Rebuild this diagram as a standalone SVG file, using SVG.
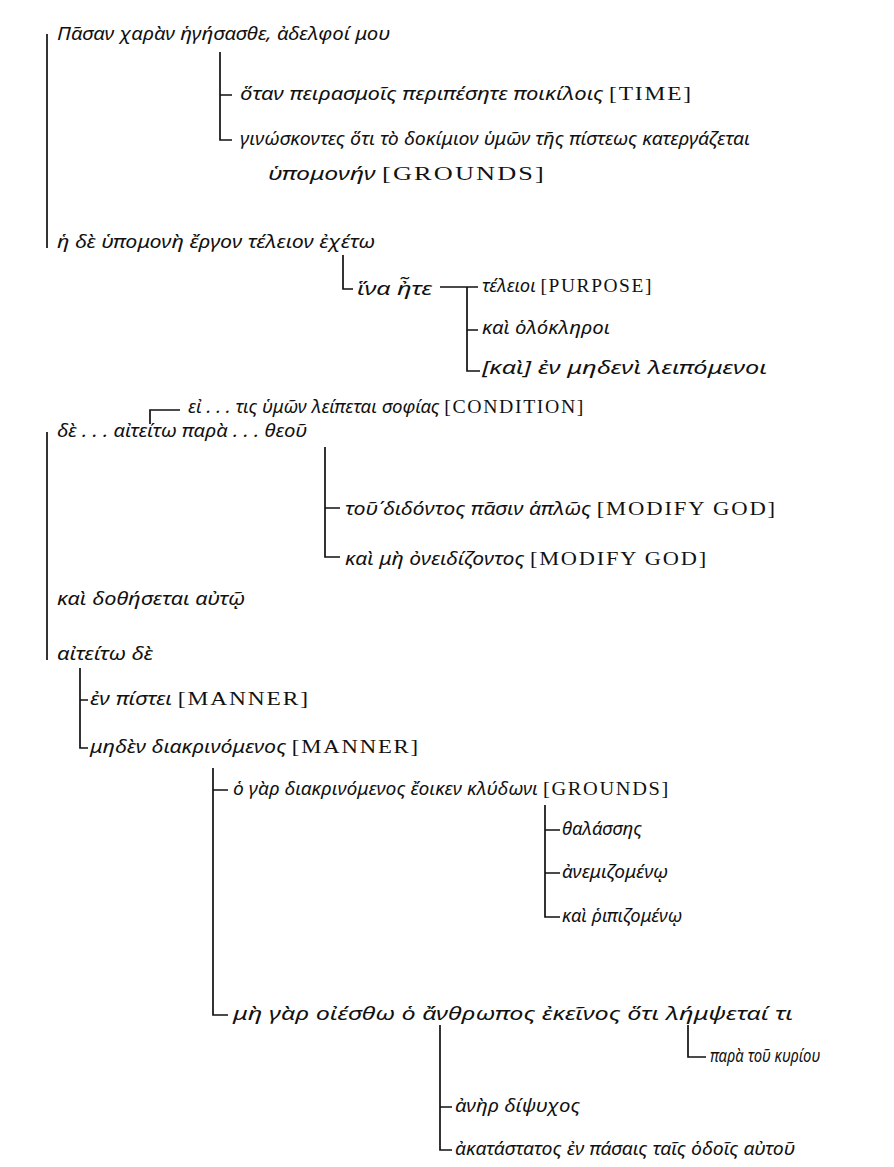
<svg xmlns="http://www.w3.org/2000/svg" width="894" height="1167" viewBox="0 0 894 1167">
<style>
text{font-family:"Noto Sans","DejaVu Sans",sans-serif;font-style:italic;font-size:17.5px;fill:#111}
.lb{font-family:"Liberation Serif",serif;font-style:normal;font-size:18.5px;letter-spacing:1.5px}
.c line,.c path{stroke:#111;stroke-width:1.7;fill:none}
</style>
<rect width="894" height="1167" fill="#fff"/>
<g class="c" id="connectors">
<line x1="47" y1="34" x2="47" y2="248"/>
<path d="M220 52 V140 H232 M220 95 H232"/>
<path d="M343 255 V289 H353"/>
<path d="M440 287 H478 M467 287 V371 H480 M467 330 H478"/>
<path d="M150 424 V410 H180"/>
<line x1="47" y1="432" x2="47" y2="660"/>
<path d="M325 447 V557 H340 M325 508 H340"/>
<path d="M80 668 V748 H88 M80 700 H88"/>
<path d="M213 768 V1015 H228 M213 790 H228"/>
<path d="M545 805 V917 H560 M545 830 H560 M545 873 H560"/>
<path d="M688 1025 V1057 H706"/>
<path d="M440 1025 V1150 H452 M440 1107 H452"/>
</g>
<g id="n1"><text x="57" y="40" textLength="333" lengthAdjust="spacingAndGlyphs">Πᾶσαν χαρὰν ἡγήσασθε, ἀδελφοί μου</text></g>
<g id="n2"><text x="240" y="100" textLength="453" lengthAdjust="spacingAndGlyphs">ὅταν πειρασμοῖς περιπέσητε ποικίλοις <tspan class="lb">[TIME]</tspan></text></g>
<g id="n3"><text x="240" y="145" textLength="510" lengthAdjust="spacingAndGlyphs">γινώσκοντες ὅτι τὸ δοκίμιον ὑμῶν τῆς πίστεως κατεργάζεται</text>
<text x="268" y="180" textLength="278" lengthAdjust="spacingAndGlyphs">ὑπομονήν <tspan class="lb">[GROUNDS]</tspan></text></g>
<g id="n4"><text x="57" y="248" textLength="318" lengthAdjust="spacingAndGlyphs">ἡ δὲ ὑπομονὴ ἔργον τέλειον ἐχέτω</text></g>
<g id="n5"><text x="357" y="295" textLength="75" lengthAdjust="spacingAndGlyphs">ἵνα ἦτε</text></g>
<g id="n6"><text x="482" y="292" textLength="171" lengthAdjust="spacingAndGlyphs">τέλειοι <tspan class="lb">[PURPOSE]</tspan></text></g>
<g id="n7"><text x="482" y="334" textLength="128" lengthAdjust="spacingAndGlyphs">καὶ ὁλόκληροι</text></g>
<g id="n8"><text x="482" y="374" textLength="285" lengthAdjust="spacingAndGlyphs">[καὶ] ἐν μηδενὶ λειπόμενοι</text></g>
<g id="n9"><text x="188" y="413" textLength="397" lengthAdjust="spacingAndGlyphs">εἰ . . . τις ὑμῶν λείπεται σοφίας <tspan class="lb">[CONDITION]</tspan></text></g>
<g id="n10"><text x="57" y="437" textLength="250" lengthAdjust="spacingAndGlyphs">δὲ . . . αἰτείτω παρὰ . . . θεοῦ</text></g>
<g id="n11"><text x="345" y="515" textLength="432" lengthAdjust="spacingAndGlyphs">τοῦ΄διδόντος πᾶσιν ἁπλῶς <tspan class="lb">[MODIFY GOD]</tspan></text></g>
<g id="n12"><text x="345" y="565" textLength="363" lengthAdjust="spacingAndGlyphs">καὶ μὴ ὀνειδίζοντος <tspan class="lb">[MODIFY GOD]</tspan></text></g>
<g id="n13"><text x="57" y="605" textLength="188" lengthAdjust="spacingAndGlyphs">καὶ δοθήσεται αὐτῷ</text></g>
<g id="n14"><text x="57" y="660" textLength="96" lengthAdjust="spacingAndGlyphs">αἰτείτω δὲ</text></g>
<g id="n15"><text x="90" y="705" textLength="220" lengthAdjust="spacingAndGlyphs">ἐν πίστει <tspan class="lb">[MANNER]</tspan></text></g>
<g id="n16"><text x="90" y="753" textLength="330" lengthAdjust="spacingAndGlyphs">μηδὲν διακρινόμενος <tspan class="lb">[MANNER]</tspan></text></g>
<g id="n17"><text x="233" y="795" textLength="437" lengthAdjust="spacingAndGlyphs">ὁ γὰρ διακρινόμενος ἔοικεν κλύδωνι <tspan class="lb">[GROUNDS]</tspan></text></g>
<g id="n18"><text x="562" y="835" textLength="80" lengthAdjust="spacingAndGlyphs">θαλάσσης</text></g>
<g id="n19"><text x="562" y="878" textLength="106" lengthAdjust="spacingAndGlyphs">ἀνεμιζομένῳ</text></g>
<g id="n20"><text x="562" y="922" textLength="120" lengthAdjust="spacingAndGlyphs">καὶ ῥιπιζομένῳ</text></g>
<g id="n21"><text x="233" y="1020" textLength="560" lengthAdjust="spacingAndGlyphs">μὴ γὰρ οἰέσθω ὁ ἄνθρωπος ἐκεῖνος ὅτι λήμψεταί τι</text></g>
<g id="n22"><text x="710" y="1062" textLength="110" lengthAdjust="spacingAndGlyphs">παρὰ τοῦ κυρίου</text></g>
<g id="n23"><text x="455" y="1112" textLength="125" lengthAdjust="spacingAndGlyphs">ἀνὴρ δίψυχος</text></g>
<g id="n24"><text x="455" y="1155" textLength="340" lengthAdjust="spacingAndGlyphs">ἀκατάστατος ἐν πάσαις ταῖς ὁδοῖς αὐτοῦ</text></g>
</svg>
